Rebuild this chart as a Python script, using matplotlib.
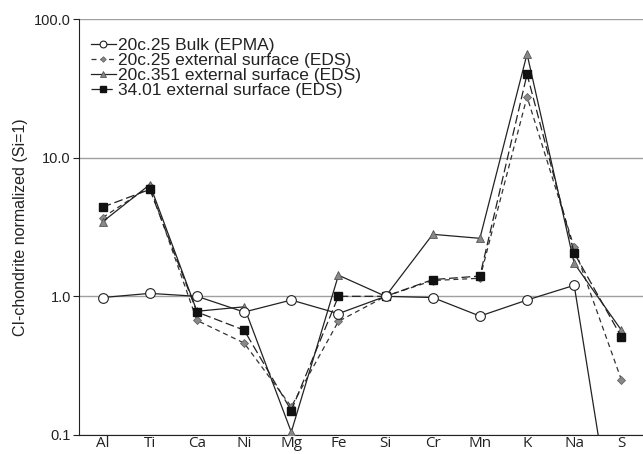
from matplotlib import pyplot as plt
from matplotlib.ticker import FixedLocator, FormatStrFormatter, NullLocator

# elements (CI-chondrite normalized, Si=1)
elements = ['Al', 'Ti', 'Ca', 'Ni', 'Mg', 'Fe', 'Si', 'Cr', 'Mn', 'K', 'Na', 'S']

bulk_epma = [0.98, 1.05, 1.0, 0.77, 0.94, 0.75, 1.0, 0.98, 0.72, 0.94, 1.2, 0.009]
ext_2025 = [3.7, 6.2, 0.67, 0.46, 0.16, 0.66, 1.0, 1.3, 1.35, 27.5, 2.25, 0.25]
ext_20351 = [3.45, 6.4, 0.78, 0.84, 0.105, 1.42, 1.0, 2.8, 2.62, 56.0, 1.73, 0.57]
ext_3401 = [4.4, 5.9, 0.77, 0.57, 0.15, 1.0, 1.0, 1.32, 1.4, 40.0, 2.05, 0.51]

labels = ['20c.25 Bulk (EPMA)', '20c.25 external surface (EDS)',
          '20c.351 external surface (EDS)', '34.01 external surface (EDS)']

plt.rcParams['font.family'] = ['Liberation Sans', 'DejaVu Sans']

fig = plt.figure(figsize=(6.43, 4.54), dpi=100)
ax = fig.add_axes([0.123, 0.042, 0.88, 0.916])

x = list(range(len(elements)))

ax.plot(x, bulk_epma, '-', color='#222222', lw=0.9, marker='o', ms=7,
        mfc='white', mec='#222222', mew=0.8, label=labels[0], zorder=4)
ax.plot(x, ext_2025, color='#333333', lw=0.9, ls=(0, (4, 3)), marker='D', ms=4,
        mfc='#888888', mec='#666666', mew=0.6, label=labels[1], zorder=3)
ax.plot(x, ext_20351, '-', color='#222222', lw=0.9, marker='^', ms=6,
        mfc='#888888', mec='#555555', mew=0.6, label=labels[2], zorder=3)
ax.plot(x, ext_3401, color='#222222', lw=0.9, ls=(0, (7, 3)), marker='s', ms=6,
        mfc='#111111', mec='#111111', label=labels[3], zorder=3)

ax.set_yscale('log')
ax.set_ylim(0.1, 100)
ax.set_xlim(-0.5, len(elements) - 0.5)
ax.yaxis.set_major_locator(FixedLocator([0.1, 1, 10, 100]))
ax.yaxis.set_minor_locator(NullLocator())
ax.yaxis.set_major_formatter(FormatStrFormatter('%.1f'))
ax.set_xticks(x)
ax.set_xticklabels(elements, family=['Open Sans', 'DejaVu Sans'], fontsize=11)
ax.tick_params(axis='x', length=0, pad=1, colors='#222222')
ax.tick_params(axis='y', length=4, width=0.8, labelsize=10.5, colors='#222222', pad=2)

ax.grid(axis='y', color='#a0a0a0', lw=1)
ax.set_axisbelow(True)
for s in ['top', 'right']:
    ax.spines[s].set_visible(False)
ax.spines['left'].set_color('#222222')
ax.spines['bottom'].set_color('#222222')

ax.set_ylabel('CI-chondrite normalized (Si=1)', fontsize=11.5, color='#222222', labelpad=4)

leg = ax.legend(loc='upper left', bbox_to_anchor=(0.0, 0.985), frameon=False,
                fontsize=12.5, handlelength=1.4, handletextpad=0.15,
                labelspacing=0.0, markerscale=0.7, borderaxespad=0.3)
for t in leg.get_texts():
    t.set_color('#222222')

fig.savefig('out.png', dpi=100)
